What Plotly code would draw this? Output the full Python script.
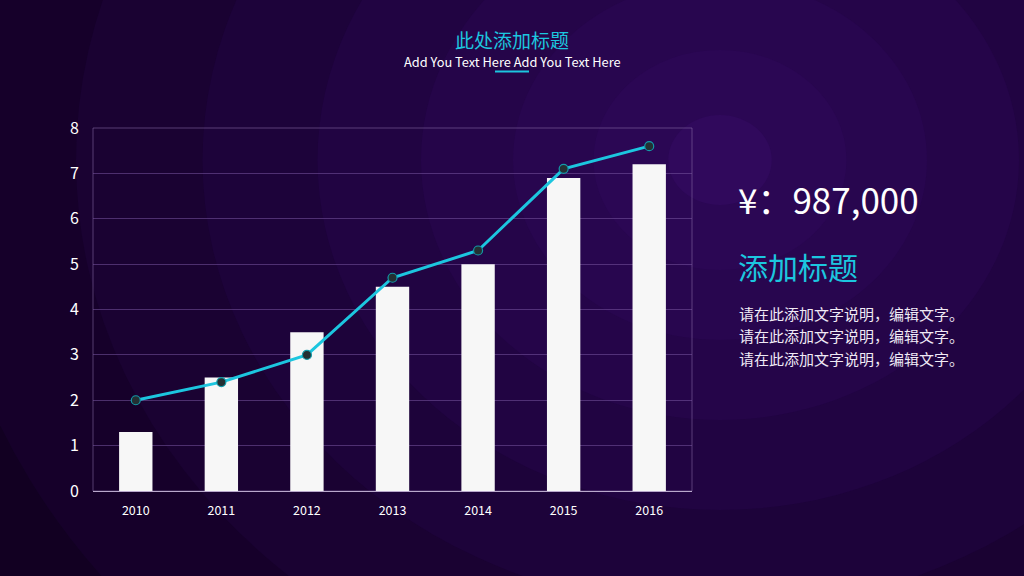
import plotly.graph_objects as go

# data
years = ['2010', '2011', '2012', '2013', '2014', '2015', '2016']
bar_values = [1.3, 2.5, 3.5, 4.5, 5.0, 6.9, 7.2]
line_values = [2.0, 2.4, 3.0, 4.7, 5.3, 7.1, 7.6]
y_ticks = [0, 1, 2, 3, 4, 5, 6, 7, 8]

title_text = '此处添加标题'
subtitle_text = 'Add You Text Here Add You Text Here'
amount_text = '¥：987,000'
side_title = '添加标题'
side_lines = ['请在此添加文字说明，编辑文字。'] * 3

W, H = 1024, 576
FONT = 'Noto Sans CJK SC, Noto Sans, sans-serif'
CYAN = '#1cc6df'


def px(x):
    return x / W


def py(y):
    return 1 - y / H


fig = go.Figure()

fig.add_trace(go.Bar(x=years, y=bar_values, marker=dict(color='#f7f7f7', line_width=0),
                     width=0.39, hoverinfo='x+y'))
fig.add_trace(go.Scatter(x=years, y=line_values, mode='lines+markers',
                         line=dict(color=CYAN, width=3),
                         marker=dict(size=9, color='#233033',
                                     line=dict(color='#139aa8', width=1.2))))

# background: concentric rings to imitate the radial glow
shapes = []
ring_radii = [1000, 820, 680, 560, 450, 350, 260, 180, 110, 45]
ring_cols = ['#0e001b', '#120022', '#16002a', '#1a0232', '#1d033a',
             '#210442', '#250549', '#28064f', '#2b0754', '#30095c']
cx, cy = 720, 160
for r, c in zip(ring_radii, ring_cols):
    shapes.append(dict(type='circle', xref='paper', yref='paper', layer='below',
                       x0=px(cx - r * 1.15), x1=px(cx + r * 1.15),
                       y0=py(cy + r), y1=py(cy - r),
                       fillcolor=c, line_width=0))
# plot frame
shapes.append(dict(type='rect', xref='paper', yref='paper', layer='below',
                   x0=px(93), x1=px(692), y0=py(491), y1=py(128),
                   line=dict(color='rgba(140,110,170,0.55)', width=1)))
# little underline under subtitle
shapes.append(dict(type='line', xref='paper', yref='paper',
                   x0=px(495), x1=px(529), y0=py(71.5), y1=py(71.5),
                   line=dict(color=CYAN, width=2)))

annotations = [
    dict(text=title_text, x=px(512), y=py(40), font=dict(size=19, color=CYAN)),
    dict(text=subtitle_text, x=px(512), y=py(62), font=dict(size=12.8, color='#ffffff')),
    dict(text=amount_text, x=px(736), y=py(198), xanchor='left',
         font=dict(size=35, color='#ffffff')),
    dict(text=side_title, x=px(736), y=py(266), xanchor='left',
         font=dict(size=30, color=CYAN)),
]
for i, t in enumerate(side_lines):
    annotations.append(dict(text=t, x=px(737), y=py(313 + i * 22.5), xanchor='left',
                            font=dict(size=15, color='#f0eaf5')))
for a in annotations:
    a.update(xref='paper', yref='paper', showarrow=False)
    a.setdefault('xanchor', 'center')
    a['yanchor'] = 'middle'

fig.update_layout(
    width=W, height=H,
    margin=dict(l=0, r=0, t=0, b=0),
    paper_bgcolor='#0e001b',
    plot_bgcolor='rgba(0,0,0,0)',
    showlegend=False,
    font=dict(family=FONT, color='#ffffff'),
    shapes=shapes,
    annotations=annotations,
    xaxis=dict(domain=[px(93), px(692)], showgrid=False, showline=True,
               linecolor='#b9a8cc', linewidth=1.2, ticks='', ticklabelstandoff=8,
               automargin=False, tickfont=dict(size=12.5, color='#ffffff')),
    yaxis=dict(domain=[py(491), py(128)], range=[0, 8], tickvals=y_ticks,
               showgrid=True, gridcolor='rgba(120,85,160,0.55)', gridwidth=1,
               zeroline=False, showline=False, ticks='', ticklabelstandoff=13,
               automargin=False, tickfont=dict(size=16, color='#ffffff')),
)

# drop the page margin so the figure sits at the window's corner
fig.write_html('out.html', config={'displayModeBar': False},
               post_script="document.body.style.margin='0';")
